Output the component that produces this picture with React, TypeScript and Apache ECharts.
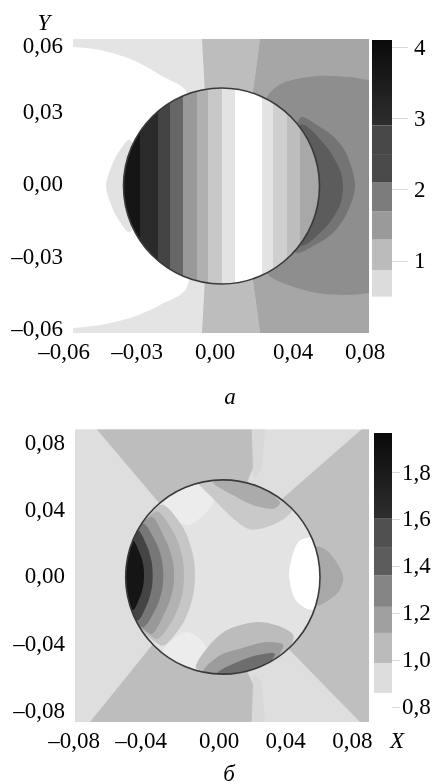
import React, { useEffect, useRef } from "react";
import * as echarts from "echarts";

type Pt = number[];

const SERIF = "Liberation Serif";

// ---- chart a: axes
const topXTickValues = [-0.0755, -0.039, 0, 0.039, 0.075];
const topXTickLabels = ["–0,06", "–0,03", "0,00", "0,04", "0,08"];
const topYTickValues = [0.0564, 0.03, 0.0012, -0.028, -0.0568];
const topYTickLabels = ["0,06", "0,03", "0,00", "–0,03", "–0,06"];
const topBarTicks = [1, 2, 3, 4];
const topBarLabels = ["1", "2", "3", "4"];

// ---- chart a: field outside the circle
const topPlot: Pt[] = [[-0.071, 0.0588], [0.077, 0.0588], [0.077, -0.0588], [-0.071, -0.0588]];
const topWhite: Pt[] = [[-0.09, 0.0566], [-0.071, 0.0556], [-0.0575, 0.0544], [-0.041, 0.0504], [-0.0275, 0.0444], [-0.014, 0.0372], [-0.0075, 0], [-0.014, -0.0404], [-0.0275, -0.0476], [-0.041, -0.0524], [-0.0575, -0.0556], [-0.071, -0.0568], [-0.09, -0.0575]];
const topBump: Pt[] = [[-0.0425, 0.0184], [-0.0475, 0.0144], [-0.0515, 0.0084], [-0.0545, 0], [-0.0515, -0.0084], [-0.0475, -0.0144], [-0.0425, -0.0184], [-0.0275, 0]];
const topMid: Pt[] = [[-0.0065, 0.0588], [0.0225, 0.0588], [0.0125, 0], [0.0225, -0.0588], [-0.0065, -0.0588], [-0.0025, 0]];
const topRight: Pt[] = [[0.0225, 0.0588], [0.077, 0.0588], [0.077, -0.0588], [0.0225, -0.0588], [0.0125, 0]];
const topMedium: Pt[] = [[0.026, 0.0356], [0.034, 0.0412], [0.051, 0.044], [0.0675, 0.0436], [0.077, 0.0424], [0.09, 0.042], [0.09, -0.0425], [0.077, -0.0428], [0.0675, -0.0436], [0.051, -0.0428], [0.034, -0.0388], [0.026, -0.0348], [0.0075, 0]];
const topDark: Pt[] = [[0.0425, 0.0272], [0.0525, 0.0236], [0.06, 0.0192], [0.066, 0.0124], [0.07, 0], [0.066, -0.0108], [0.059, -0.0188], [0.05, -0.0236], [0.04, -0.0264], [0.0325, 0]];
const topDarker: Pt[] = [[0.0425, 0.0244], [0.055, 0.0164], [0.0625, 0.0064], [0.064, 0], [0.0625, -0.0076], [0.055, -0.0168], [0.0425, -0.0236], [0.0325, 0]];
const topOuterShapes = [topPlot, topWhite, topBump, topMid, topRight, topMedium, topDark, topDarker];
const topOuterGrays = ["#e4e4e4", "#ffffff", "#e2e2e2", "#bdbdbd", "#a6a6a6", "#8e8e8e", "#747474", "#5c5c5c"];
const topOuterSmooth = [0, 0.3, 0.3, 0, 0, 0.3, 0.3, 0.3];

// ---- chart a: vertical stripes inside the circle
const topStripeEdges = [-0.0475, -0.0375, -0.0285, -0.0225, -0.016, -0.009, -0.0035, 0.0035, 0.01, 0.0235, 0.029, 0.036, 0.0425, 0.0535];
const topStripeGrays = ["#151515", "#2a2a2a", "#444444", "#666666", "#999999", "#b0b0b0", "#c8c8c8", "#e3e3e3", "#ffffff", "#e3e3e3", "#cfcfcf", "#bdbdbd", "#a8a8a8"];
const topCircleCenter = [0.00325, 0];
const topCircleRadii = [0.049, 0.0392];

// ---- chart a: colour scale
const topBarLevels = [0, 0.5, 0.87, 1.3, 1.7, 2.1, 2.5, 2.9, 4.1];
const topBarGrays: any[] = ["#ffffff", "#dcdcdc", "#bbbbbb", "#9a9a9a", "#7c7c7c", "#4a4a4a", "#484848", "#1c1c1c"];

// ---- chart б: axes
const botXTickValues = [-0.087, -0.0467, 0, 0.04, 0.08];
const botXTickLabels = ["–0,08", "–0,04", "0,00", "0,04", "0,08"];
const botYTickValues = [0.081, 0.0408, 0.0012, -0.04, -0.08];
const botYTickLabels = ["0,08", "0,04", "0,00", "–0,04", "–0,08"];
const botBarTicks = [0.8, 1.0, 1.2, 1.4, 1.6, 1.8];
const botBarLabels = ["0,8", "1,0", "1,2", "1,4", "1,6", "1,8"];

// ---- chart б: field outside the circle
const botPlot: Pt[] = [[-0.0864, 0.0886], [0.09, 0.0886], [0.09, -0.087], [-0.0864, -0.087]];
const botTopSector: Pt[] = [[-0.0734, 0.0886], [0.0196, 0.0886], [0.0226, 0.071], [0.0166, 0.056], [-0.0014, 0.031], [-0.0354, 0.0438]];
const botLowSector: Pt[] = [[-0.0774, -0.087], [0.0196, -0.087], [0.0226, -0.069], [0.0166, -0.056], [-0.0014, -0.029], [-0.0354, -0.035]];
const botRightSector: Pt[] = [[0.0856, 0.0886], [0.09, 0.0886], [0.09, -0.087], [0.0846, -0.087], [0.0406, -0.042], [0.0286, 0], [0.0366, 0.0458]];
const botStripeTop: Pt[] = [[0.0196, 0.0886], [0.0276, 0.0886], [0.0256, 0.065], [0.0206, 0.058]];
const botStripeLow: Pt[] = [[0.0196, -0.087], [0.0276, -0.087], [0.0256, -0.063], [0.0206, -0.058]];
const botBump: Pt[] = [[0.0586, 0.018], [0.0656, 0.015], [0.0716, 0.007], [0.0746, -0.001], [0.0716, -0.009], [0.0656, -0.014], [0.0586, -0.017], [0.0486, 0.001]];
const botOuterShapes = [botPlot, botTopSector, botLowSector, botRightSector, botStripeTop, botStripeLow, botBump];
const botOuterGrays = ["#dedede", "#bdbdbd", "#bdbdbd", "#bfbfbf", "#d8d8d8", "#d8d8d8", "#a8a8a8"];
const botOuterSmooth = [0, 0, 0, 0, 0, 0, 0.3];

// ---- chart б: field inside the circle
const botCornerA: Pt[] = [[-0.0334, 0.047], [-0.0114, 0.058], [-0.0034, 0.045], [-0.0194, 0.031]];
const botCornerB: Pt[] = [[-0.0334, -0.045], [-0.0134, -0.058], [-0.0074, -0.043], [-0.0194, -0.033]];
const botBand1: Pt[] = [[-0.0354, 0.043], [-0.0224, 0.031], [-0.016, 0.015], [-0.0144, 0.001], [-0.016, -0.013], [-0.0224, -0.029], [-0.0354, -0.041], [-0.0714, 0.001]];
const botBand2: Pt[] = [[-0.0384, 0.039], [-0.0274, 0.027], [-0.0222, 0.013], [-0.021, 0.001], [-0.0222, -0.011], [-0.0274, -0.025], [-0.0384, -0.037], [-0.0714, 0.001]];
const botBand3: Pt[] = [[-0.0414, 0.036], [-0.0324, 0.023], [-0.028, 0.011], [-0.027, 0.001], [-0.028, -0.009], [-0.0324, -0.021], [-0.0414, -0.034], [-0.0714, 0.001]];
const botBand4: Pt[] = [[-0.0464, 0.032], [-0.0384, 0.022], [-0.0344, 0.011], [-0.0334, 0.001], [-0.0344, -0.009], [-0.0384, -0.02], [-0.0464, -0.03], [-0.0714, 0.001]];
const botBand5: Pt[] = [[-0.0494, 0.028], [-0.0434, 0.019], [-0.0404, 0.009], [-0.0398, 0.001], [-0.0404, -0.007], [-0.0434, -0.017], [-0.0494, -0.026], [-0.0714, 0.001]];
const botBand6: Pt[] = [[-0.0524, 0.022], [-0.0474, 0.014], [-0.0454, 0.007], [-0.045, 0.001], [-0.0454, -0.005], [-0.0474, -0.012], [-0.0524, -0.02], [-0.0714, 0.001]];
const botUpperLobe1: Pt[] = [[-0.0134, 0.059], [-0.0034, 0.047], [0.0086, 0.035], [0.0186, 0.0286], [0.0306, 0.0306], [0.0426, 0.038], [0.0446, 0.047], [0.0166, 0.061]];
const botUpperLobe2: Pt[] = [[-0.0034, 0.057], [0.0086, 0.049], [0.0206, 0.043], [0.0326, 0.041], [0.0366, 0.045], [0.0186, 0.06]];
const botLowerLobe1: Pt[] = [[-0.0134, -0.055], [-0.0074, -0.043], [0.0046, -0.032], [0.0226, -0.027], [0.0346, -0.029], [0.0446, -0.035], [0.0406, -0.045], [0.0206, -0.059]];
const botLowerLobe2: Pt[] = [[-0.0094, -0.057], [0.0006, -0.047], [0.0126, -0.043], [0.0286, -0.039], [0.0386, -0.041], [0.0286, -0.055], [0.0086, -0.061]];
const botLowerLobe3: Pt[] = [[-0.0014, -0.058], [0.0086, -0.052], [0.0226, -0.047], [0.0336, -0.046], [0.0266, -0.055], [0.0086, -0.061]];
const botBlob: Pt[] = [[0.0566, 0.023], [0.0476, 0.021], [0.0426, 0.007], [0.0422, -0.001], [0.0456, -0.013], [0.0526, -0.019], [0.0606, -0.019], [0.0646, 0.001]];
const botInnerShapes = [botPlot, botCornerA, botCornerB, botBand1, botBand2, botBand3, botBand4, botBand5, botBand6, botUpperLobe1, botUpperLobe2, botLowerLobe1, botLowerLobe2, botLowerLobe3, botBlob];
const botInnerGrays = ["#e3e3e3", "#ececec", "#ececec", "#c6c6c6", "#b2b2b2", "#999999", "#777777", "#444444", "#151515", "#c9c9c9", "#ababab", "#bcbcbc", "#9c9c9c", "#6e6e6e", "#ffffff"];
const botInnerSmooth = [0, 0.3, 0.3, 0.3, 0.3, 0.3, 0.3, 0.3, 0.3, 0.3, 0.3, 0.3, 0.3, 0.3, 0.3];
const botCircleCenter = [0.0023, 0];
const botCircleRadii = [0.0583, 0.0583];

// ---- chart б: colour scale
const botBarLevels = [0, 0.86, 0.987, 1.115, 1.226, 1.36, 1.477, 1.604, 1.966];
const botBarGrays: any[] = ["#ffffff", "#dddddd", "#bbbbbb", "#a0a0a0", "#858585", "#5c5c5c", "#505050", "#1a1a1a"];

const darkGradient = { type: "linear", x: 0, y: 0, x2: 0, y2: 1, colorStops: [{ offset: 0, color: "#0a0a0a" }, { offset: 1, color: "#2e2e2e" }] };

function ellipseShape(api: any, center: number[], radii: number[]) {
  const c = api.coord(center);
  const e = api.coord([center[0] + radii[0], center[1] + radii[1]]);
  return { cx: c[0], cy: c[1], rx: Math.abs(e[0] - c[0]), ry: Math.abs(e[1] - c[1]) };
}

function rectShape(api: any, plot: Pt[]) {
  const a = api.coord(plot[0]);
  const b = api.coord(plot[2]);
  return { x: a[0], y: a[1], width: b[0] - a[0], height: b[1] - a[1] };
}

function fieldSeries(grid: number, shapes: Pt[][], grays: string[], smooth: number[], clipFn: (api: any) => any) {
  return {
    type: "custom",
    coordinateSystem: "cartesian2d",
    xAxisIndex: grid,
    yAxisIndex: grid,
    silent: true,
    clip: false,
    encode: { x: 0, y: 1 },
    data: shapes.map((s) => s[0]),
    renderItem: (params: any, api: any) => {
      const i = params.dataIndex;
      return {
        type: "polygon",
        shape: { points: shapes[i].map((p) => api.coord(p)), smooth: smooth[i] },
        style: { fill: grays[i], stroke: null },
        clipPath: clipFn(api),
      };
    },
  };
}

function stripeSeries(grid: number, edges: number[], grays: string[], center: number[], radii: number[]) {
  return {
    type: "custom",
    coordinateSystem: "cartesian2d",
    xAxisIndex: grid,
    yAxisIndex: grid,
    silent: true,
    clip: false,
    encode: { x: 0, y: 1 },
    data: grays.map((_, i) => [edges[i], edges[i + 1]]),
    renderItem: (params: any, api: any) => {
      const i = params.dataIndex;
      const a = api.coord([edges[i], center[1] + radii[1]]);
      const b = api.coord([edges[i + 1], center[1] - radii[1]]);
      return {
        type: "rect",
        shape: { x: a[0], y: a[1], width: b[0] - a[0] + 0.5, height: b[1] - a[1] },
        style: { fill: grays[i], stroke: null },
        clipPath: { type: "ellipse", shape: ellipseShape(api, center, radii) },
      };
    },
  };
}

function circleSeries(grid: number, center: number[], radii: number[]) {
  return {
    type: "custom",
    coordinateSystem: "cartesian2d",
    xAxisIndex: grid,
    yAxisIndex: grid,
    silent: true,
    clip: false,
    encode: { x: 0, y: 1 },
    data: [center],
    renderItem: (_: any, api: any) => ({
      type: "ellipse",
      shape: ellipseShape(api, center, radii),
      style: { fill: "none", stroke: "#3a3a3a", lineWidth: 1.6 },
    }),
  };
}

function barSeries(grid: number, levels: number[], grays: any[], stack: string) {
  return grays.map((g, i) => ({
    type: "bar",
    xAxisIndex: grid,
    yAxisIndex: grid,
    stack,
    silent: true,
    barWidth: "100%",
    itemStyle: { color: g },
    data: [levels[i + 1] - levels[i]],
  }));
}

const labelStyle = { fontFamily: SERIF, fontSize: 23, color: "#000" };

function plotAxis(grid: number, min: number, max: number, values: number[], labels: string[], margin: number) {
  return {
    type: "value",
    gridIndex: grid,
    min,
    max,
    axisLine: { show: false },
    axisTick: { show: false },
    splitLine: { show: false },
    axisLabel: {
      ...labelStyle,
      margin,
      customValues: values,
      hideOverlap: false,
      formatter: (v: number) => labels[values.indexOf(v)] ?? "",
    },
  };
}

function barY(grid: number, min: number, max: number, values: number[], labels: string[], margin: number, tickLength: number) {
  return {
    type: "value",
    gridIndex: grid,
    position: "right",
    min,
    max,
    axisLine: { show: false },
    axisTick: { show: true, customValues: values, length: tickLength, lineStyle: { color: "#d8d8d8", width: 1 } },
    splitLine: { show: false },
    axisLabel: {
      ...labelStyle,
      margin,
      customValues: values,
      hideOverlap: false,
      formatter: (v: number) => labels[values.indexOf(v)] ?? "",
    },
  };
}

function barX(grid: number) {
  return { type: "category", gridIndex: grid, data: ["scale"], show: false };
}

function caption(text: string, x: number, y: number) {
  return {
    type: "text",
    x,
    y,
    style: { text, fontFamily: SERIF, fontStyle: "italic", fontSize: 23, lineHeight: 18, fill: "#000", align: "center", verticalAlign: "middle" },
  };
}

export default function App() {
  const ref = useRef<HTMLDivElement>(null);
  useEffect(() => {
    const chart = echarts.init(ref.current!, undefined, { renderer: "svg" });
    chart.setOption({
      animation: false,
      backgroundColor: "#ffffff",
      grid: [
        { left: 60, top: 39, width: 312, height: 294, outerBoundsMode: "none" },
        { left: 372, top: 40, width: 20, height: 293, outerBoundsMode: "none" },
        { left: 70, top: 429, width: 302, height: 293, outerBoundsMode: "none" },
        { left: 374, top: 433, width: 18, height: 289, outerBoundsMode: "none" },
      ],
      xAxis: [
        plotAxis(0, -0.0775, 0.0785, topXTickValues, topXTickLabels, 7),
        barX(1),
        plotAxis(2, -0.0894, 0.0918, botXTickValues, botXTickLabels, 7),
        barX(3),
      ],
      yAxis: [
        plotAxis(0, -0.0588, 0.0588, topYTickValues, topYTickLabels, -3),
        barY(1, -0.01, 4.1, topBarTicks, topBarLabels, 22, 16),
        plotAxis(2, -0.087, 0.0888, botYTickValues, botYTickLabels, 5),
        barY(3, 0.736, 1.966, botBarTicks, botBarLabels, 10, 8),
      ],
      series: [
        fieldSeries(0, topOuterShapes, topOuterGrays, topOuterSmooth, (api) => ({ type: "rect", shape: rectShape(api, topPlot) })),
        stripeSeries(0, topStripeEdges, topStripeGrays, topCircleCenter, topCircleRadii),
        circleSeries(0, topCircleCenter, topCircleRadii),
        ...barSeries(1, topBarLevels, [...topBarGrays.slice(0, 7), darkGradient], "a"),
        fieldSeries(2, botOuterShapes, botOuterGrays, botOuterSmooth, (api) => ({ type: "rect", shape: rectShape(api, botPlot) })),
        fieldSeries(2, botInnerShapes, botInnerGrays, botInnerSmooth, (api) => ({ type: "ellipse", shape: ellipseShape(api, botCircleCenter, botCircleRadii) })),
        circleSeries(2, botCircleCenter, botCircleRadii),
        ...barSeries(3, botBarLevels, [...botBarGrays.slice(0, 7), darkGradient], "b"),
      ],
      graphic: [
        caption("Y", 44, 22),
        caption("а", 230, 396),
        caption("X", 397, 740),
        caption("б", 229, 773),
      ],
    });
    return () => chart.dispose();
  }, []);
  return (
    <div
      ref={ref}
      style={{ position: "fixed", left: 0, top: 0, width: 432, height: 784, filter: "blur(0.6px)" }}
    />
  );
}
